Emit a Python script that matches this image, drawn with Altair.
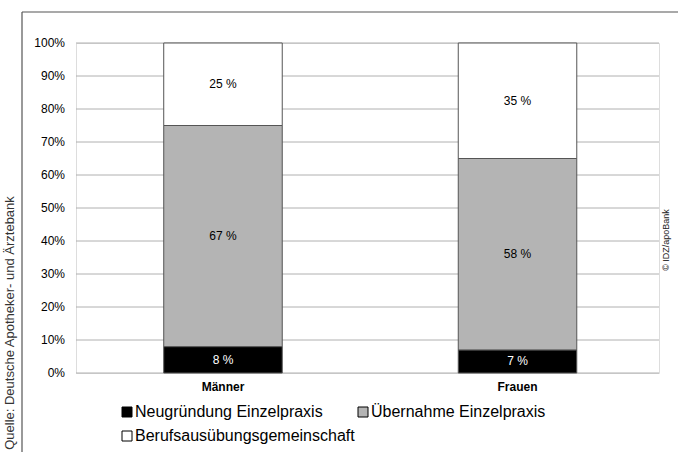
import altair as alt
import pandas as pd

categories = ["Männer", "Frauen"]
series = ["Neugründung Einzelpraxis", "Übernahme Einzelpraxis", "Berufsausübungsgemeinschaft"]
neugruendung = [8, 7]
uebernahme = [67, 58]
bag = [25, 35]
colors = ["#000000", "#b4b4b4", "#ffffff"]
text_colors = ["#ffffff", "#000000", "#000000"]
y_ticks = list(range(0, 101, 10))
y_tick_labels = [f"{t}%" for t in y_ticks]
source_text = "Quelle: Deutsche Apotheker- und Ärztebank"
copyright_text = "© IDZ/apoBank"

rows = []
for si, (name, vals) in enumerate(zip(series, [neugruendung, uebernahme, bag])):
    for cat, v in zip(categories, vals):
        rows.append({"cat": cat, "series": name, "value": v, "ord": si, "tcol": text_colors[si]})
df = pd.DataFrame(rows)
ticks_df = pd.DataFrame({"t": y_ticks, "lab": y_tick_labels})

FONT = "Liberation Sans"

x_scale = alt.Scale(paddingInner=0.5976, paddingOuter=0.25, range=[14.1, 574.4])
y_scale = alt.Scale(domain=[0, 100], nice=False)
x_axis = alt.Axis(labelAngle=0, labelFontWeight="bold", labelFontSize=12,
                  labelFont=FONT, labelColor="#000000", ticks=False, domain=False,
                  labelPadding=8, grid=False)

grid = alt.Chart(ticks_df).mark_rule(color="#b0b0b0", strokeWidth=1).encode(
    y=alt.Y("t:Q", scale=y_scale, axis=None),
    x=alt.value(0), x2=alt.value(583),
)
ylabels = alt.Chart(ticks_df).mark_text(
    align="right", baseline="middle", fontSize=12, font=FONT, color="#000000"
).encode(
    y=alt.Y("t:Q", scale=y_scale, axis=None),
    x=alt.value(-11),
    text="lab:N",
)

bars = alt.Chart(df).mark_bar(stroke="#555555", strokeWidth=1).encode(
    x=alt.X("cat:N", sort=categories, title=None, scale=x_scale, axis=x_axis),
    y=alt.Y("value:Q", stack="zero", title=None, scale=y_scale, axis=None),
    color=alt.Color("series:N", sort=series,
                    scale=alt.Scale(domain=series, range=colors),
                    legend=alt.Legend(title=None, orient="none", legendX=43, legendY=361,
                                      direction="horizontal", columns=2, columnPadding=0,
                                      rowPadding=8, symbolType="square", symbolSize=100,
                                      symbolStrokeColor="#000000", symbolStrokeWidth=1,
                                      labelFontSize=16, labelFont=FONT, labelColor="#000000",
                                      labelOffset=0, labelLimit=400, gridAlign="each")),
    order=alt.Order("ord:Q"),
)

labels = alt.Chart(df).transform_stack(
    stack="value", groupby=["cat"], sort=[alt.SortField("ord")], as_=["y0", "y1"]
).transform_calculate(
    mid="(datum.y0 + datum.y1) / 2", lbl="datum.value + ' %'"
).mark_text(fontSize=12, font=FONT).encode(
    x=alt.X("cat:N", sort=categories, title=None, scale=x_scale, axis=x_axis),
    y=alt.Y("mid:Q", title=None, scale=y_scale, axis=None),
    text="lbl:N",
    color=alt.Color("tcol:N", scale=None),
)

frame_left = alt.Chart(pd.DataFrame({"a": [0]})).mark_rule(color="#555555", strokeWidth=1.2).encode(
    x=alt.value(-54), y=alt.value(-31), y2=alt.value(420))
frame_top = alt.Chart(pd.DataFrame({"a": [0]})).mark_rule(color="#555555", strokeWidth=1.2).encode(
    x=alt.value(-54), x2=alt.value(610), y=alt.value(-31))

src = alt.Chart(pd.DataFrame({"t": [source_text]})).mark_text(
    angle=270, fontSize=13, font=FONT, color="#333333", align="center", baseline="middle"
).encode(x=alt.value(-66), y=alt.value(280), text="t:N")

cpy = alt.Chart(pd.DataFrame({"t": [copyright_text]})).mark_text(
    angle=270, fontSize=9, font=FONT, color="#222222", align="center", baseline="middle"
).encode(x=alt.value(590), y=alt.value(197), text="t:N")

chart = alt.layer(grid, ylabels, bars, labels, frame_left, frame_top, src, cpy).properties(
    width=583, height=330,
    autosize=alt.AutoSizeParams(type="none"),
    padding={"left": 76, "top": 43, "right": 19, "bottom": 79},
).configure_view(strokeWidth=0).configure(background="white")

chart.save("out.html", embed_options={"renderer": "svg", "actions": False})
